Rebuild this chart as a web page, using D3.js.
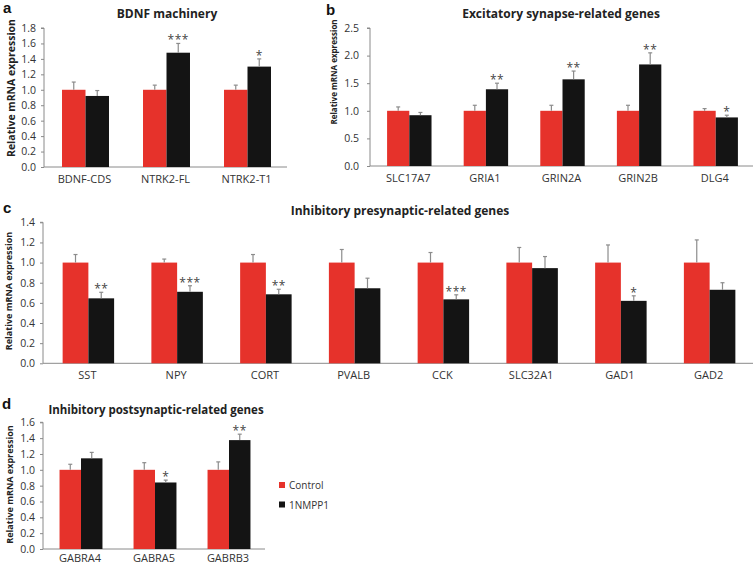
<!DOCTYPE html>
<html><head><meta charset="utf-8">
<script src="https://cdn.jsdelivr.net/npm/d3@7"></script>
<style>
body{margin:0;background:#fff;}
svg{display:block;font-family:"Open Sans",sans-serif;}
</style></head>
<body><svg id="chart" width="756" height="566"></svg>
<script>
// ---- DATA ----
const seriesNames = ["Control", "1NMPP1"];

const catsA = ["BDNF-CDS", "NTRK2-FL", "NTRK2-T1"];
const ctrlA = [1.0, 1.0, 1.0];
const ctrlErrA = [0.10, 0.06, 0.06];
const trtA = [0.92, 1.48, 1.30];
const trtErrA = [0.07, 0.12, 0.10];
const sigA = ["", "***", "*"];
const ticksA = [0.0, 0.2, 0.4, 0.6, 0.8, 1.0, 1.2, 1.4, 1.6, 1.8];

const catsB = ["SLC17A7", "GRIA1", "GRIN2A", "GRIN2B", "DLG4"];
const ctrlB = [1.0, 1.0, 1.0, 1.0, 1.0];
const ctrlErrB = [0.07, 0.10, 0.10, 0.10, 0.04];
const trtB = [0.92, 1.39, 1.57, 1.84, 0.88];
const trtErrB = [0.05, 0.11, 0.15, 0.21, 0.04];
const sigB = ["", "**", "**", "**", "*"];
const ticksB = [0.0, 0.5, 1.0, 1.5, 2.0, 2.5];

const catsC = ["SST", "NPY", "CORT", "PVALB", "CCK", "SLC32A1", "GAD1", "GAD2"];
const ctrlC = [1.0, 1.0, 1.0, 1.0, 1.0, 1.0, 1.0, 1.0];
const ctrlErrC = [0.08, 0.035, 0.08, 0.13, 0.10, 0.15, 0.175, 0.225];
const trtC = [0.645, 0.71, 0.685, 0.745, 0.635, 0.945, 0.62, 0.73];
const trtErrC = [0.06, 0.06, 0.05, 0.10, 0.045, 0.115, 0.05, 0.07];
const sigC = ["**", "***", "**", "", "***", "", "*", ""];
const ticksC = [0.0, 0.2, 0.4, 0.6, 0.8, 1.0, 1.2, 1.4];

const catsD = ["GABRA4", "GABRA5", "GABRB3"];
const ctrlD = [1.0, 1.0, 1.0];
const ctrlErrD = [0.07, 0.09, 0.10];
const trtD = [1.145, 0.84, 1.375];
const trtErrD = [0.075, 0.03, 0.075];
const sigD = ["", "*", "**"];
const ticksD = [0.0, 0.2, 0.4, 0.6, 0.8, 1.0, 1.2, 1.4, 1.6];

const titles = ["BDNF machinery", "Excitatory synapse-related genes",
  "Inhibitory presynaptic-related genes", "Inhibitory postsynaptic-related genes"];
const letters = ["a", "b", "c", "d"];
const yLabel = "Relative mRNA expression";

// ---- STYLE ----
const RED = "#e6322b", BLACK = "#141414", AXIS = "#8a8a8a", ERR = "#8c8c8c", TXT = "#333";

const svg = d3.select("#chart");

function panel(o) {
  const g = svg.append("g");
  const x = d3.scaleBand().domain(o.cats).range([o.x0, o.x1]).paddingInner(0).paddingOuter(0);
  const y = d3.scaleLinear().domain([0, o.max]).range([o.yb, o.yt]);
  const pairW = x.bandwidth() * 0.58;
  const bw = pairW / 2;
  const x1 = d3.scaleBand().domain([0, 1]).range([0, pairW]);

  // y axis
  const ya = g.append("g").attr("transform", `translate(${o.x0},0)`)
    .call(d3.axisLeft(y).tickValues(o.ticks).tickSize(3).tickPadding(o.tp)
      .tickFormat(d3.format(".1f")));
  ya.select(".domain").attr("stroke", AXIS).attr("d", `M-3,${o.yt}H0V${o.yb}`);
  ya.selectAll(".tick line").attr("stroke", AXIS);
  ya.selectAll(".tick text").attr("fill", TXT).style("font-size", o.tfs + "px").style("font-family", "Open Sans");

  // x axis
  const xa = g.append("g").attr("transform", `translate(0,${o.yb})`)
    .call(d3.axisBottom(x).tickSize(0).tickPadding(o.xp));
  xa.select(".domain").attr("stroke", AXIS).attr("d", `M${o.x0},0H${o.x1}`);
  xa.selectAll(".tick text").attr("fill", TXT).style("font-size", o.xfs + "px").style("font-family", "Open Sans");

  const series = [o.ctrl, o.trt];
  const errs = [o.ctrlErr, o.trtErr];
  const colors = [RED, BLACK];
  o.cats.forEach((c, i) => {
    const cx = x(c) + x.bandwidth() / 2 + 1 - pairW / 2;
    [0, 1].forEach(s => {
      const v = series[s][i], e = errs[s][i];
      const bx = cx + x1(s);
      g.append("rect").attr("x", bx).attr("y", y(v)).attr("width", bw)
        .attr("height", y(0) - y(v)).attr("fill", colors[s]);
      const mx = bx + bw / 2;
      g.append("line").attr("x1", mx).attr("x2", mx).attr("y1", y(v)).attr("y2", y(v + e))
        .attr("stroke", ERR).attr("stroke-width", 1.2);
      g.append("line").attr("x1", mx - 2).attr("x2", mx + 2).attr("y1", y(v + e)).attr("y2", y(v + e))
        .attr("stroke", ERR).attr("stroke-width", 1.2);
      if (s === 1 && o.sig[i]) {
        g.append("text").attr("x", mx).attr("y", y(v + e) + 1).attr("text-anchor", "middle")
          .attr("fill", "#444").style("font-size", "12px").style("letter-spacing", "0.5px").text(o.sig[i]);
      }
    });
  });

  // title
  g.append("text").attr("x", o.tx).attr("y", o.ty).attr("text-anchor", "middle")
    .attr("fill", "#222").style("font-weight", "bold").style("font-size", o.tts + "px").text(o.title);
  // letter
  g.append("text").attr("x", o.lx).attr("y", o.ly).attr("fill", "#111")
    .style("font-weight", "bold").style("font-size", "15px").style("font-family", "Arial, Liberation Sans").text(o.letter);
  // y label
  g.append("text").attr("transform", `translate(${o.ylx},${o.yly}) rotate(-90)`)
    .attr("text-anchor", "middle").attr("dominant-baseline", "central").attr("fill", "#222")
    .style("font-weight", "bold").style("font-size", o.yls + "px").text(yLabel);
}

panel({cats: catsA, ctrl: ctrlA, ctrlErr: ctrlErrA, trt: trtA, trtErr: trtErrA, sig: sigA, ticks: ticksA,
  max: 1.8, x0: 44, x1: 287, yt: 28, yb: 167, tp: 5, tfs: 10.5, xfs: 11, xp: 8,
  title: titles[0], tx: 167, ty: 18, tts: 12, letter: letters[0], lx: 3, ly: 13,
  ylx: 10.5, yly: 88, yls: 10.5});
panel({cats: catsB, ctrl: ctrlB, ctrlErr: ctrlErrB, trt: trtB, trtErr: trtErrB, sig: sigB, ticks: ticksB,
  max: 2.5, x0: 370, x1: 753, yt: 28, yb: 166, tp: 8, tfs: 10.5, xfs: 11, xp: 8,
  title: titles[1], tx: 561, ty: 18, tts: 12, letter: letters[1], lx: 326, ly: 15,
  ylx: 333, yly: 72, yls: 8});
panel({cats: catsC, ctrl: ctrlC, ctrlErr: ctrlErrC, trt: trtC, trtErr: trtErrC, sig: sigC, ticks: ticksC,
  max: 1.4, x0: 43, x1: 753, yt: 222.3, yb: 363.3, tp: 5, tfs: 10.5, xfs: 11, xp: 8,
  title: titles[2], tx: 400, ty: 215, tts: 12, letter: letters[2], lx: 3, ly: 213,
  ylx: 8.5, yly: 291, yls: 9});
panel({cats: catsD, ctrl: ctrlD, ctrlErr: ctrlErrD, trt: trtD, trtErr: trtErrD, sig: sigD, ticks: ticksD,
  max: 1.6, x0: 43, x1: 265, yt: 422.3, yb: 549, tp: 5, tfs: 10.5, xfs: 11, xp: 5,
  title: titles[3], tx: 156, ty: 414, tts: 11.5, letter: letters[3], lx: 2, ly: 409,
  ylx: 9, yly: 484.5, yls: 9});

// legend
const leg = svg.append("g");
[RED, BLACK].forEach((c, i) => {
  leg.append("rect").attr("x", 279).attr("y", 482 + i * 19.5).attr("width", 6).attr("height", 6).attr("fill", c);
  leg.append("text").attr("x", 289).attr("y", 485 + i * 19.5).attr("dominant-baseline", "central")
    .attr("fill", "#333").style("font-size", "10px").text(seriesNames[i]);
});
</script></body></html>
